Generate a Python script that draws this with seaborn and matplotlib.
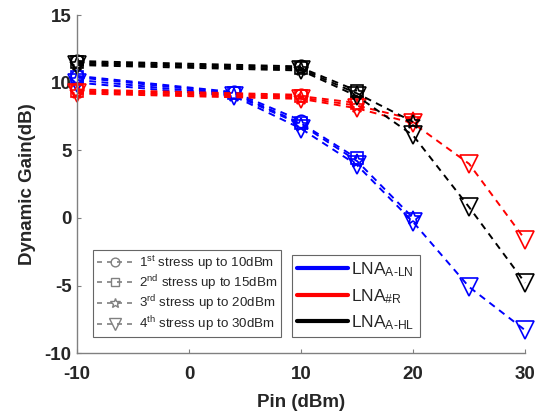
import matplotlib
matplotlib.use("Agg")
import matplotlib.pyplot as plt
import seaborn as sns
import pandas as pd
from matplotlib.lines import Line2D

sns.set_style("ticks")
plt.rcParams['font.family'] = ['Liberation Sans', 'DejaVu Sans']
plt.rcParams['mathtext.fontset'] = 'custom'
plt.rcParams['mathtext.rm'] = 'Liberation Sans'
plt.rcParams['mathtext.it'] = 'Liberation Sans:italic'
plt.rcParams['mathtext.bf'] = 'Liberation Sans:bold'

# ---- data ----
x_blue_s1 = [-10, 4, 10]
x_blue_s2 = [-10, 4, 10, 15]
x_blue_s3 = [-10, 4, 10, 15, 20]
x_blue_s4 = [-10, 4, 10, 15, 20, 25, 30]
x_oth_s1 = [-10, 10]
x_oth_s2 = [-10, 10, 15]
x_oth_s3 = [-10, 10, 15, 20]
x_oth_s4 = [-10, 10, 15, 20, 25, 30]

blue_s1 = [10.5, 9.3, 7.2]
blue_s2 = [10.4, 9.2, 7.0, 4.4]
blue_s3 = [10.2, 9.1, 6.9, 4.2, 0.0]
blue_s4 = [10.0, 9.0, 6.6, 3.9, -0.3, -5.1, -8.3]

red_s1 = [9.5, 9.1]
red_s2 = [9.4, 9.0, 8.5]
red_s3 = [9.3, 8.9, 8.3, 7.3]
red_s4 = [9.2, 8.8, 8.1, 7.0, 4.0, -1.6]

black_s1 = [11.6, 11.2]
black_s2 = [11.5, 11.1, 9.4]
black_s3 = [11.4, 11.0, 9.2, 7.1]
black_s4 = [11.3, 10.9, 9.0, 6.1, 0.8, -4.8]

stress_labels = ['1$^{\\mathrm{st}}$ stress up to 10dBm',
                 '2$^{\\mathrm{nd}}$ stress up to 15dBm',
                 '3$^{\\mathrm{rd}}$ stress up to 20dBm',
                 '4$^{\\mathrm{th}}$ stress up to 30dBm']
lna_labels = ['LNA$_{\\text{A-LN}}$', 'LNA$_{\\#\\mathrm{R}}$', 'LNA$_{\\text{A-HL}}$']
x_ticks = [-10, 0, 10, 20, 30]
y_ticks = [-10, -5, 0, 5, 10, 15]

colors = ['#0000ff', '#ff0000', '#000000']
markers = ['o', 's', '*', 'v']
msizes = [9, 8, 10, 13]

series = [
    (colors[0], [(x_blue_s1, blue_s1), (x_blue_s2, blue_s2), (x_blue_s3, blue_s3), (x_blue_s4, blue_s4)]),
    (colors[1], [(x_oth_s1, red_s1), (x_oth_s2, red_s2), (x_oth_s3, red_s3), (x_oth_s4, red_s4)]),
    (colors[2], [(x_oth_s1, black_s1), (x_oth_s2, black_s2), (x_oth_s3, black_s3), (x_oth_s4, black_s4)]),
]

fig = plt.figure(figsize=(5.43, 4.17), dpi=100)
ax = fig.add_axes([0.142, 0.153, 0.825, 0.811])

for col, lst in series:
    for i, (xs, ys) in enumerate(lst):
        df = pd.DataFrame({'x': xs, 'y': ys})
        sns.lineplot(data=df, x='x', y='y', ax=ax, color=col, linestyle=(0, (3.5, 2.8)),
                     linewidth=1.4, marker=markers[i], markersize=msizes[i],
                     markerfacecolor='none', markeredgecolor=col, markeredgewidth=1.2,
                     clip_on=False, legend=False, estimator=None, sort=False)

ax.set_xlim(-10, 30)
ax.set_ylim(-10, 15)
ax.set_xticks(x_ticks)
ax.set_yticks(y_ticks)
ax.set_xticklabels([str(t) for t in x_ticks])
ax.set_yticklabels([str(t) for t in y_ticks])
ax.tick_params(direction='in', length=3, width=0.8, color='#808080', labelsize=13.5,
               labelcolor='#262626')
ax.tick_params(axis='x', pad=9)
ax.tick_params(axis='y', pad=4)
for lab in ax.get_xticklabels() + ax.get_yticklabels():
    lab.set_fontweight('bold')
for s in ['top', 'right']:
    ax.spines[s].set_visible(False)
for s in ['left', 'bottom']:
    ax.spines[s].set_color('#808080')
    ax.spines[s].set_linewidth(1.0)

ax.set_xlabel('Pin (dBm)', fontsize=13.5, fontweight='bold', color='#262626', labelpad=8)
ax.set_ylabel('Dynamic Gain(dB)', fontsize=13.5, fontweight='bold', color='#262626', labelpad=6)

h1 = [Line2D([0], [0], color='#808080', linestyle=(0, (3, 3)), linewidth=1.2, marker=m,
             markersize=ms * 0.7, markerfacecolor='none', markeredgecolor='#808080')
      for m, ms in zip(markers, msizes)]
leg1 = ax.legend(h1, stress_labels, loc='lower left', bbox_to_anchor=(0.036, 0.047),
                 fontsize=9.6, frameon=True, fancybox=False, edgecolor='#404040',
                 handlelength=2.8, handletextpad=0.4, labelspacing=0.08, borderpad=0.25,
                 borderaxespad=0)
leg1.get_frame().set_linewidth(0.8)
ax.add_artist(leg1)

h2 = [Line2D([0], [0], color=c, linewidth=3) for c in colors]
leg2 = ax.legend(h2, lna_labels, loc='lower left', bbox_to_anchor=(0.48, 0.047),
                 fontsize=12.5, frameon=True, fancybox=False, edgecolor='#404040',
                 handlelength=2.9, handletextpad=0.2, labelspacing=0.45, borderpad=0.3,
                 borderaxespad=0)
leg2.get_frame().set_linewidth(0.8)

fig.savefig('out.png', dpi=100)
